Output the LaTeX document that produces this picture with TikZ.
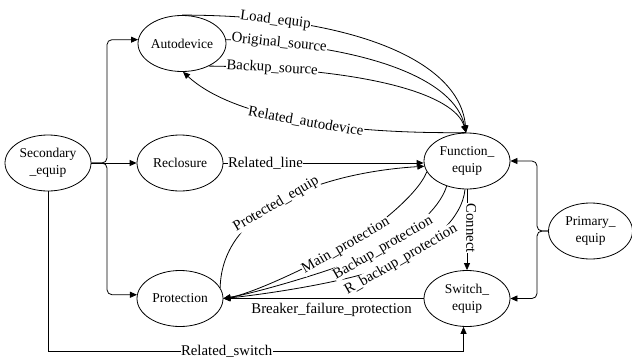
\documentclass[tikz,border=0pt]{standalone}
\usepackage{fontspec}
\setmainfont{Liberation Serif}
\usetikzlibrary{arrows.meta,calc,shapes.geometric}
\begin{document}
\begin{tikzpicture}[x=1pt,y=-1pt,
  st/.style={draw, ellipse, line width=0.8pt, minimum width=86pt, minimum height=56pt,
    inner sep=0pt, align=center, font=\fontsize{13.5}{17}\selectfont},
  conn/.style={line width=0.8pt},
  arr/.style={conn, -{Triangle[length=7pt,width=6pt]}},
  lbl/.style={fill=white, inner sep=0.4pt, font=\fontsize{14.8}{16}\selectfont},
]
\useasboundingbox (0,0) rectangle (632,362);

% states
\node[st] (auto) at (182,43.5) {Autodevice};
\node[st] (sec)  at (48,163)   {Secondary\\\_equip};
\node[st] (rec)  at (180,163)  {Reclosure};
\node[st] (prot) at (180,298.5) {Protection};
\node[st] (func) at (467,161)  {Function\_\\equip};
\node[st] (sw)   at (467,298.5) {Switch\_\\equip};
\node[st, minimum width=84pt] (prim) at (590.5,231) {Primary\_\\equip};

% Secondary_equip fans out to the three secondary devices
\coordinate (sbus) at (107,163);
\draw[arr, rounded corners=5pt] (sec.east) -- (sbus) -- (sbus |- auto.175) -- (auto.175);
\draw[arr] (sec.east) -- (rec.west);
\draw[arr, rounded corners=5pt] (sec.east) -- (sbus) -- (sbus |- prot.175) -- (prot.175);

% Secondary_equip to Switch_equip along the bottom
\coordinate (sbot) at (48,351);
\draw[arr] (sec.south) -- (sbot) -- (sbot -| sw.263)
  node[lbl, pos=0.43] {Related\_switch} -- (sw.263);

% Reclosure to Function_equip
\draw[arr] (rec.east) -- (func.west |- rec.east) node[lbl, pos=0.21] {Related\_line};

% Autodevice <-> Function_equip
\draw[arr] (auto.north) .. controls (350,15) and (460,60) .. (func.92)
  node[lbl, sloped, pos=0.2] {Load\_equip};
\draw[arr] (auto.5) .. controls (370,45) and (455,80) .. (func.92)
  node[lbl, sloped, pos=0.13] {Original\_source};
\draw[arr] (auto.-40) .. controls (370,68) and (455,95) .. (func.92)
  node[lbl, sloped, pos=0.14] {Backup\_source};
\draw[arr] (func.92) .. controls (330,134) and (230,115) .. (auto.-88)
  node[lbl, sloped, pos=0.45] {Related\_autodevice};

% Protection <-> Function_equip
\draw[arr] (prot.15) .. controls (222,205) and (330,172) .. (func.187)
  node[lbl, sloped, pos=0.45] {Protected\_equip};
\coordinate (mp) at (346,246);
\coordinate (bp) at (383,248);
\coordinate (rp) at (401,260);
\draw[arr] (func.266) .. controls +(-3,30) and +(30,-17) .. (rp)
  node[lbl, rotate=30] {R\_backup\_protection}
  .. controls +(-35,20) and +(40,-4) .. (prot.east);
\draw[arr] (func.231) .. controls +(-8,25) and +(26,-15) .. (bp)
  node[lbl, rotate=30] {Backup\_protection}
  .. controls +(-30,17) and +(35,-6) .. (prot.east);
\draw[arr] (func.195) .. controls +(-10,25) and +(24,-14) .. (mp)
  node[lbl, rotate=30] {Main\_protection}
  .. controls +(-30,17.5) and +(30,-5) .. (prot.east);

% Switch_equip to Protection
\draw[arr] (sw.west) -- (prot.east)
  node[pos=0.46, below=3.5pt, inner sep=1pt, font=\fontsize{14.8}{16}\selectfont] {Breaker\_failure\_protection};

% Function_equip to Switch_equip
\draw[arr] (func.south) -- (sw.north);
\node[lbl, rotate=-90, anchor=south] at ($(func.south)!0.48!(sw.north)+(-1.5,0)$) {Connect};

% Primary_equip feeds Function_equip and Switch_equip
\coordinate (pbus) at (537,231);
\draw[arr, rounded corners=5pt] (prim.west) -- (pbus) -- (pbus |- func.east) -- (func.east);
\draw[arr, rounded corners=5pt] (prim.west) -- (pbus) -- (pbus |- sw.east) -- (sw.east);
\end{tikzpicture}
\end{document}
